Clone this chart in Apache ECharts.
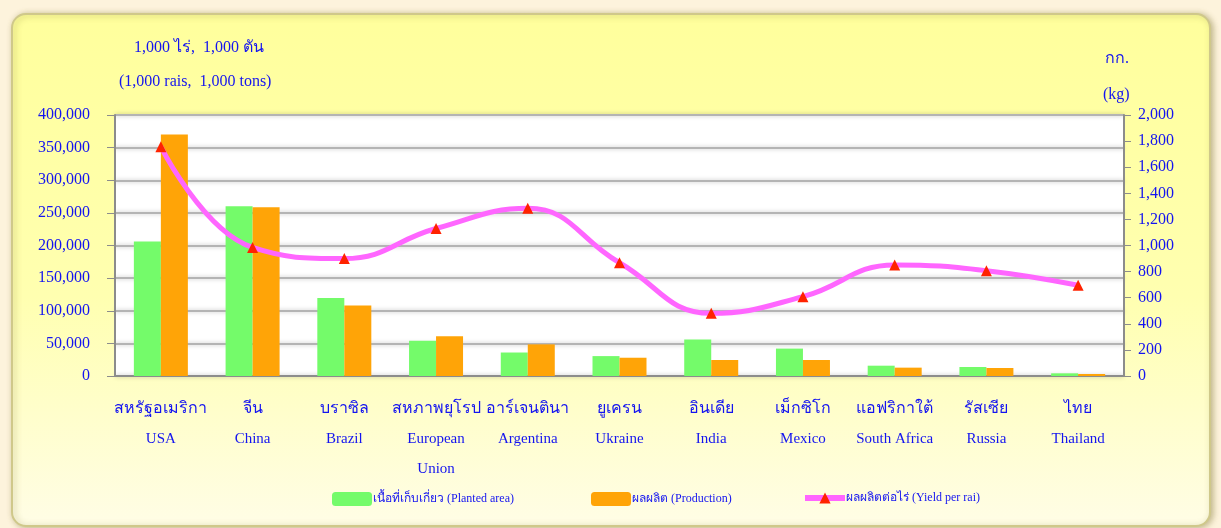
<!DOCTYPE html>
<html>
<head>
    <meta charset="utf-8">
    <title>Maize - world</title>
    <script src="https://cdn.jsdelivr.net/npm/echarts@6/dist/echarts.min.js"></script>
    <style>
        body { margin: 0; background: #fdf3dc; }
        #main { width: 1221px; height: 528px; }
    </style>
</head>
<body>
<div id="main"></div>
<script>
// ข้อมูลจากภาพ (ค่าประมาณ)
const thNames = ['สหรัฐอเมริกา', 'จีน', 'บราซิล', 'สหภาพยุโรป', 'อาร์เจนตินา', 'ยูเครน', 'อินเดีย', 'เม็กซิโก', 'แอฟริกาใต้', 'รัสเซีย', 'ไทย'];
const enNames = ['USA', 'China', 'Brazil', 'European\nUnion', 'Argentina', 'Ukraine', 'India', 'Mexico', 'South Africa', 'Russia', 'Thailand'];
const plantedArea = [206000, 260000, 119500, 54000, 36000, 30500, 56000, 42000, 15800, 13800, 4100];
const production  = [370000, 258500, 108000, 61000, 48500, 28000, 24500, 24500, 12800, 12300, 3100];
const yieldPerRai = [1757, 985, 900, 1130, 1285, 868, 480, 608, 851, 807, 695];
const leftTicks = { min: 0, max: 400000, interval: 50000 };
const rightTicks = { min: 0, max: 2000, interval: 200 };

const blue = '#1414f0';
const serif = '"Liberation Serif", "DejaVu Serif", serif';
const fmt = v => v.toLocaleString('en-US');

const option = {
    backgroundColor: '#fdf3dc',
    textStyle: { fontFamily: serif },
    graphic: [{
        type: 'rect',
        z: -10,
        shape: { x: 12, y: 14, width: 1198, height: 512, r: 14 },
        style: {
            fill: {
                type: 'linear', x: 0, y: 0, x2: 0, y2: 1,
                colorStops: [
                    { offset: 0, color: '#ffff9c' },
                    { offset: 0.55, color: '#ffffb0' },
                    { offset: 1, color: '#fffde6' }
                ]
            },
            stroke: '#cfc88a',
            lineWidth: 2,
            shadowBlur: 6,
            shadowColor: 'rgba(120,110,40,0.45)',
            shadowOffsetX: 2,
            shadowOffsetY: 1
        }
    }],
    title: [
        { text: '1,000 ไร่,  1,000 ตัน', left: 129, top: 35, textStyle: { color: blue, fontSize: 16, fontWeight: 'normal', fontFamily: serif } },
        { text: '(1,000 rais,  1,000 tons)', left: 114, top: 69, textStyle: { color: blue, fontSize: 16, fontWeight: 'normal', fontFamily: serif } },
        { text: 'กก.', left: 1100, top: 46, textStyle: { color: blue, fontSize: 16, fontWeight: 'normal', fontFamily: serif } },
        { text: '(kg)', left: 1098, top: 82, textStyle: { color: blue, fontSize: 16, fontWeight: 'normal', fontFamily: serif } }
    ],
    legend: [
        { left: 327, top: 487, itemWidth: 40, itemHeight: 14, data: ['เนื้อที่เก็บเกี่ยว (Planted area)'], textStyle: { color: blue, fontSize: 12, padding: [0, 0, 0, -4] } },
        { left: 586, top: 487, itemWidth: 40, itemHeight: 14, data: ['ผลผลิต (Production)'], textStyle: { color: blue, fontSize: 12, padding: [0, 0, 0, -4] } },
        { left: 797, top: 487, itemWidth: 40, itemHeight: 14, data: ['ผลผลิตต่อไร่ (Yield per rai)'], lineStyle: { width: 6 }, textStyle: { color: blue, fontSize: 12, padding: [0, 0, 0, -4] } }
    ],
    grid: {
        left: 115, right: 97, top: 115, bottom: 152,
        show: true, backgroundColor: '#ffffff', borderWidth: 0
    },
    xAxis: {
        type: 'category',
        data: thNames,
        axisLine: { lineStyle: { color: '#8c8c8c', width: 2 } },
        axisTick: { length: 7, lineStyle: { color: '#8c8c8c' } },
        axisLabel: {
            interval: 0,
            margin: 18,
            formatter: (v, i) => '{th|' + v + '}\n{en|' + enNames[i].replace('\n', '}\n{en|') + '}',
            rich: {
                th: { color: blue, fontSize: 16, lineHeight: 30, fontFamily: serif },
                en: { color: blue, fontSize: 15, lineHeight: 30, fontFamily: serif }
            }
        }
    },
    yAxis: [{
        type: 'value',
        min: leftTicks.min, max: leftTicks.max, interval: leftTicks.interval,
        axisLine: { show: true, lineStyle: { color: '#8c8c8c', width: 2 } },
        axisTick: { show: true, length: 8, lineStyle: { color: '#8c8c8c' } },
        axisLabel: { color: blue, fontSize: 16, margin: 25, formatter: fmt },
        splitLine: { lineStyle: { color: '#b4b4b4', width: 2, shadowBlur: 4, shadowColor: 'rgba(0,0,0,0.25)' } }
    }, {
        type: 'value',
        min: rightTicks.min, max: rightTicks.max, interval: rightTicks.interval,
        axisLine: { show: true, lineStyle: { color: '#8c8c8c', width: 2 } },
        axisTick: { show: true, length: 7, lineStyle: { color: '#8c8c8c' } },
        axisLabel: { color: blue, fontSize: 16, margin: 14, formatter: fmt },
        splitLine: { show: false }
    }],
    series: [{
        name: 'เนื้อที่เก็บเกี่ยว (Planted area)',
        type: 'bar',
        data: plantedArea,
        barWidth: 27,
        barGap: '0%',
        itemStyle: { color: '#74fb6a' }
    }, {
        name: 'ผลผลิต (Production)',
        type: 'bar',
        data: production,
        barWidth: 27,
        itemStyle: { color: '#ffa407' }
    }, {
        name: 'ผลผลิตต่อไร่ (Yield per rai)',
        type: 'line',
        yAxisIndex: 1,
        data: yieldPerRai,
        smooth: 0.45,
        symbol: 'triangle',
        symbolSize: 11,
        lineStyle: { color: '#ff66ff', width: 5 },
        itemStyle: { color: '#ff2200' },
        z: 5
    }]
};

const chart = echarts.init(document.getElementById('main'));
chart.setOption(option);
</script>
</body>
</html>
